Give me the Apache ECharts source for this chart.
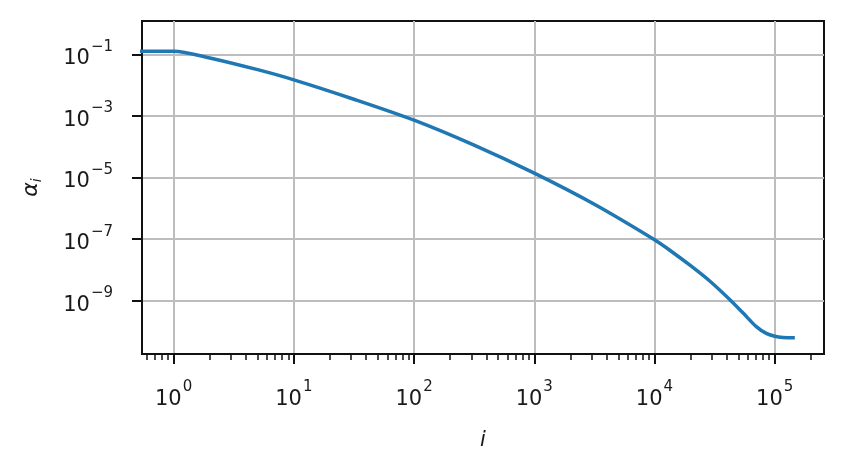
<!DOCTYPE html>
<html>
<head>
<meta charset="utf-8">
<script src="https://cdn.jsdelivr.net/npm/echarts@6/dist/echarts.min.js"></script>
<style>
html,body{margin:0;padding:0;background:#fff;}
#c{width:846px;height:473px;}
</style>
</head>
<body>
<div id="c"></div>
<script>
// data
var iValues = [0.5, 1, 2, 5, 10, 31.6, 100, 316, 1000, 3160, 10000, 13400, 19600, 28800, 42200, 54600, 70300, 85100, 100000, 117000, 147000];
var alphaValues = [0.126, 0.126, 0.0759, 0.0316, 0.0148, 3.47e-3, 7.24e-4, 1.12e-4, 1.38e-5, 1.35e-6, 9.55e-8, 4.37e-8, 1.45e-8, 4.37e-9, 1.10e-9, 3.98e-10, 1.45e-10, 8.71e-11, 7.08e-11, 6.46e-11, 6.31e-11];
var xMajorTicks = [1, 10, 100, 1000, 10000, 100000];
var xMinorTicks = [0.6, 0.7, 0.8, 0.9,
  2, 3, 4, 5, 6, 7, 8, 9,
  20, 30, 40, 50, 60, 70, 80, 90,
  200, 300, 400, 500, 600, 700, 800, 900,
  2000, 3000, 4000, 5000, 6000, 7000, 8000, 9000,
  20000, 30000, 40000, 50000, 60000, 70000, 80000, 90000,
  200000];
var yMajorTicks = [1e-1, 1e-3, 1e-5, 1e-7, 1e-9];
var xRange = [0.546, 2.57e5];
var yRange = [1.87e-11, 1.2];
var xName = 'i';
var yName = 'α';
var ySub = 'i';

var pts = iValues.map(function (v, k) { return [v, alphaValues[k]]; });

function powLabel(v) {
  var e = Math.round(Math.log10(v));
  var s = e < 0 ? '\u2212' + (-e) : String(e);
  return '{b|10}{s|' + s + '}';
}
var labelRich = {
  b: { fontFamily: 'DejaVu Sans', fontSize: 21, color: '#1a1a1a', lineHeight: 30, verticalAlign: 'bottom' },
  s: { fontFamily: 'DejaVu Sans', fontSize: 15, color: '#1a1a1a', lineHeight: 30, verticalAlign: 'top', padding: [0, 0, 0, 1] }
};

var chart = echarts.init(document.getElementById('c'), null, { renderer: 'canvas' });
chart.setOption({
  animation: false,
  backgroundColor: '#ffffff',
  grid: {
    left: 142, right: 22, top: 21, bottom: 119,
    show: true, borderColor: '#111', borderWidth: 2, backgroundColor: 'transparent'
  },
  xAxis: [{
    type: 'log', logBase: 10, min: xRange[0], max: xRange[1],
    gridIndex: 0, position: 'bottom',
    name: '{n|' + xName + '}', nameLocation: 'middle', nameGap: 76,
    nameTextStyle: { rich: { n: { fontFamily: 'DejaVu Sans', fontStyle: 'italic', fontSize: 21, color: '#1a1a1a' } } },
    axisLine: { show: true, lineStyle: { color: '#111', width: 2 } },
    axisTick: { show: true, length: 10, customValues: xMajorTicks, lineStyle: { color: '#111', width: 2 } },
    axisLabel: { show: true, customValues: xMajorTicks, margin: 26, formatter: powLabel, rich: labelRich },
    splitLine: { show: true, lineStyle: { color: '#bdbdbd', width: 2 } }
  }, {
    type: 'log', logBase: 10, min: xRange[0], max: xRange[1],
    gridIndex: 0, position: 'bottom',
    axisLine: { show: false },
    axisTick: { show: true, length: 6, customValues: xMinorTicks, lineStyle: { color: '#111', width: 1.5 } },
    axisLabel: { show: false },
    splitLine: { show: false }
  }],
  yAxis: [{
    type: 'log', logBase: 10, min: yRange[0], max: yRange[1],
    name: '{n|' + yName + '}{m|' + ySub + '}', nameLocation: 'middle', nameGap: 98, nameRotate: 90,
    nameTextStyle: { rich: {
      n: { fontFamily: 'DejaVu Sans', fontStyle: 'italic', fontSize: 22, color: '#1a1a1a', lineHeight: 24, verticalAlign: 'top' },
      m: { fontFamily: 'DejaVu Sans', fontStyle: 'italic', fontSize: 14, color: '#1a1a1a', lineHeight: 24, verticalAlign: 'bottom' }
    } },
    axisLine: { show: true, lineStyle: { color: '#111', width: 2 } },
    axisTick: { show: true, length: 10, customValues: yMajorTicks, lineStyle: { color: '#111', width: 2 } },
    axisLabel: { show: true, customValues: yMajorTicks, margin: 29, formatter: powLabel, rich: labelRich },
    splitLine: { show: true, lineStyle: { color: '#bdbdbd', width: 2 } }
  }],
  series: [{
    type: 'line',
    xAxisIndex: 0, yAxisIndex: 0,
    data: pts,
    showSymbol: false,
    smooth: 0.3,
    clip: true,
    lineStyle: { color: '#1f77b4', width: 3.5 },
    z: 5
  }]
});
</script>
</body>
</html>
